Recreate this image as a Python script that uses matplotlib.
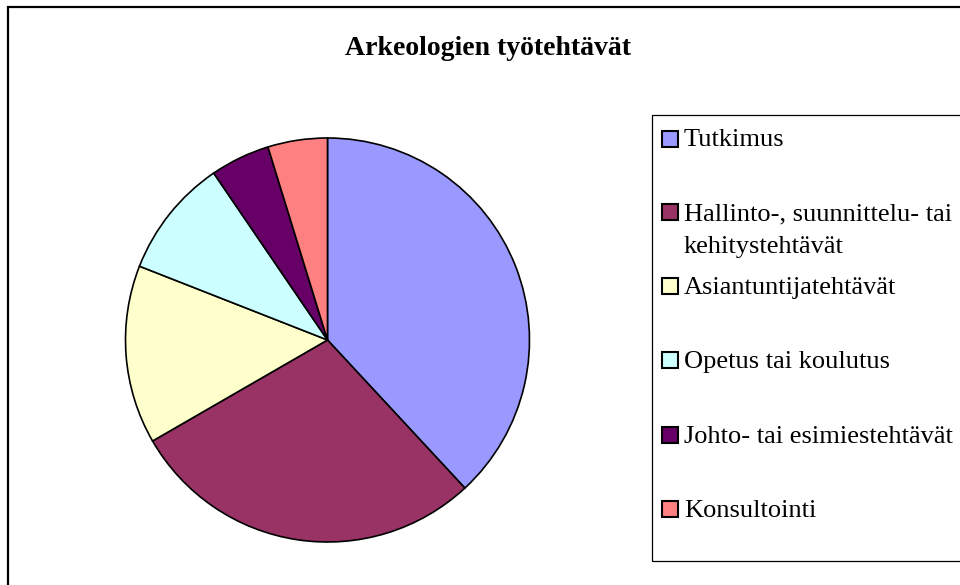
import matplotlib.pyplot as plt
from matplotlib.patches import Rectangle

# tehtävät, lukumäärät luettu kuvasta
categories = ['Tutkimus', 'Hallinto-, suunnittelu- tai\nkehitystehtävät',
              'Asiantuntijatehtävät', 'Opetus tai koulutus',
              'Johto- tai esimiestehtävät', 'Konsultointi']
counts = [16, 12, 6, 4, 2, 2]
colors = ['#9999FF', '#993366', '#FFFFCC', '#CCFFFF', '#660066', '#FF8080']

W, H = 960, 585
fig = plt.figure(figsize=(W / 100, H / 100), dpi=100)
serif = 'Liberation Serif'

def fx(px):
    return px / W

def fy(py):
    return 1 - py / H

# kaavion reunus (oikea ja alareuna jäävät kuvan ulkopuolelle)
fig.patches.append(Rectangle((fx(8), fy(600)), fx(1000), (600 - 7) / H,
                             transform=fig.transFigure, fill=False,
                             edgecolor='black', linewidth=1.6))

fig.text(fx(488), fy(55), 'Arkeologien työtehtävät', family=serif,
         fontsize=20, fontweight='bold', ha='center', va='baseline')

# piirakka
cx, cy, r = 327.5, 340, 202
ax = fig.add_axes([fx(cx - r), fy(cy + r), 2 * r / W, 2 * r / H])
ax.pie(counts, colors=colors, startangle=90, counterclock=False,
       wedgeprops=dict(edgecolor='black', linewidth=1.2))
ax.set_xlim(-1, 1)
ax.set_ylim(-1, 1)
ax.set_aspect('equal')
ax.axis('off')

# selite
fig.patches.append(Rectangle((fx(652), fy(561)), fx(400), (561 - 115) / H,
                             transform=fig.transFigure, fill=False,
                             edgecolor='black', linewidth=0.9))
baselines = [146.5, 220, 294.3, 368.3, 443.3, 516.7]
line_gap = 32.7
for lab, col, yb in zip(categories, colors, baselines):
    fig.patches.append(Rectangle((fx(662), fy(yb)), 16 / W, 16 / H,
                                 transform=fig.transFigure, facecolor=col,
                                 edgecolor='black', linewidth=1.5))
    for i, part in enumerate(lab.split('\n')):
        fig.text(fx(684), fy(yb + i * line_gap), part, family=serif,
                 fontsize=19, ha='left', va='baseline')

fig.savefig('out.png', dpi=100, facecolor='white')
